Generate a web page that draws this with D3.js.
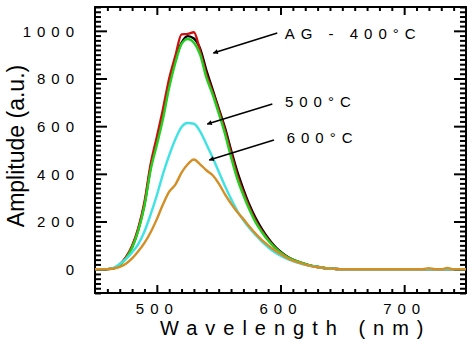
<!DOCTYPE html>
<html><head><meta charset="utf-8">
<script src="https://cdn.jsdelivr.net/npm/d3@7"></script>
<style>
html,body{margin:0;padding:0;background:#fff;}
svg{display:block;}
text{font-family:"Liberation Sans",Arial,Helvetica,sans-serif;fill:#000;}
</style>
</head><body>
<svg id="chart" width="474" height="344"></svg>
<script>
// Wavelength (nm)
const wavelengths = [450,455,460,465,470,475,480,485,490,495,500,505,510,515,520,525,530,535,540,545,550,555,560,565,570,575,580,585,590,595,600,605,610,615,620,625,630,635,640,645,650,655,660,665,670,675,680,685,690,695,700,705,710,715,720,725,730,735,740,745,750];
// Amplitude (a.u.) – "AG - 400°C" group (black, red, green), 500°C (cyan), 600°C (orange)
const ampBlack = [0,0,0,3,19,47,93,166,272,428,538,652,778,880,950,978,968,925,835,755,675,595,500,410,335,268,213,168,130,98,73,54,40,30,21,14,9,5,3,1,0,0,0,0,0,0,0,0,0,0,0,0,0,0,0,0,0,0,0,0,0];
const ampRed   = [0,0,0,3,20,50,98,172,282,440,555,672,800,895,985,987,994,915,820,745,668,585,488,395,322,258,203,160,124,94,70,52,39,29,21,14,9,5,3,1,0,0,0,0,0,0,0,0,0,0,0,0,0,0,0,0,0,0,0,0,0];
const ampGreen = [0,0,0,3,18,45,90,162,265,416,521,631,762,866,945,966,950,900,805,735,655,570,470,380,310,248,195,155,120,93,70,52,40,31,22,15,10,6,3,1,0,0,0,0,0,0,0,0,0,0,0,0,0,0,0,0,0,0,0,0,0];
const amp500   = [0,0,0,6,22,42,70,105,158,230,310,400,478,545,597,613,610,578,525,470,410,350,295,245,205,172,143,115,92,72,57,44,34,25,18,13,9,5,3,1,0,0,0,0,0,0,0,0,0,0,0,0,0,0,0,0,0,0,0,0,0];
const amp600   = [0,0,0,3,10,23,45,75,110,155,210,272,325,355,405,440,460,440,415,395,360,315,275,240,210,178,148,122,100,80,64,48,36,27,19,13,8,5,3,1,0,0,0,0,0,0,0,0,0,0,0,0,0,0,4,0,0,5,0,0,0];
const seriesColors = ["#000000","#cc1010","#22d022","#3fe3e3","#d38e26"];

// Axis ticks
const xMajorTicks = [500,600,700];
const yMajorTicks = [0,200,400,600,800,1000];
const xDomain = [450,750];
const yDomain = [-100,1100];

// Annotations: label, text anchor point (data), arrow start (data), arrow tip (data)
const annLabels = ["AG - 400\u00B0C","500\u00B0C","600\u00B0C"];
const annText   = [[603.4,965],[603.6,679],[605,528]];
const annFrom   = [[597.4,991],[593.4,693],[594.7,542]];
const annTip    = [[545.7,907],[540.8,609],[542.4,458]];

const svg = d3.select("#chart");
const L=95, R=466, T=7, B=293;
const x = d3.scaleLinear().domain(xDomain).range([L,R]);
const y = d3.scaleLinear().domain(yDomain).range([B,T]);

const xMinor = d3.range(460,750,10).filter(v=>!xMajorTicks.includes(v));
const yMinor = d3.range(-100,1101,20).filter(v=>!yMajorTicks.includes(v));
const fmt = d3.format("d");

function styleAxis(g){
  g.select(".domain").remove();
  g.selectAll(".tick line").attr("stroke","#000").attr("stroke-width",2);
}
// minor ticks
svg.append("g").attr("transform",`translate(0,${B})`).call(d3.axisBottom(x).tickValues(xMinor).tickSize(-4).tickFormat("")).call(styleAxis);
svg.append("g").attr("transform",`translate(0,${T})`).call(d3.axisTop(x).tickValues(xMinor).tickSize(-4).tickFormat("")).call(styleAxis);
svg.append("g").attr("transform",`translate(${L},0)`).call(d3.axisLeft(y).tickValues(yMinor).tickSize(-6).tickFormat("")).call(styleAxis);
svg.append("g").attr("transform",`translate(${R},0)`).call(d3.axisRight(y).tickValues(yMinor).tickSize(-6).tickFormat("")).call(styleAxis);
// major ticks
const gxb = svg.append("g").attr("transform",`translate(0,${B})`).call(d3.axisBottom(x).tickValues(xMajorTicks).tickFormat(fmt).tickSize(-8).tickPadding(10)).call(styleAxis);
svg.append("g").attr("transform",`translate(0,${T})`).call(d3.axisTop(x).tickValues(xMajorTicks).tickSize(-8).tickFormat("")).call(styleAxis);
const gyl = svg.append("g").attr("transform",`translate(${L},0)`).call(d3.axisLeft(y).tickValues(yMajorTicks).tickFormat(fmt).tickSize(-12).tickPadding(21)).call(styleAxis);
svg.append("g").attr("transform",`translate(${R},0)`).call(d3.axisRight(y).tickValues(yMajorTicks).tickSize(-12).tickFormat("")).call(styleAxis);

gxb.selectAll("text").attr("font-size",15).attr("font-family",null).attr("letter-spacing",6);
gyl.selectAll("text").attr("font-size",15).attr("font-family",null).attr("letter-spacing",6).attr("dx",6).attr("dy","0.36em");

// frame
svg.append("rect").attr("x",L).attr("y",T).attr("width",R-L).attr("height",B-T)
  .attr("fill","none").attr("stroke","#000").attr("stroke-width",2);

// curves
const seriesList = [ampBlack, ampRed, ampGreen, amp500, amp600];
const line = d3.line().x((d,i)=>x(wavelengths[i])).y(d=>y(d)).curve(d3.curveMonotoneX);
const plot = svg.append("g");
seriesList.forEach((s,k)=>{
  plot.append("path").datum(s).attr("d",line).attr("fill","none")
    .attr("stroke",seriesColors[k]).attr("stroke-width",2.4).attr("stroke-linejoin","round");
});

// arrows
svg.append("defs").append("marker").attr("id","ah").attr("viewBox","0 0 10 10")
  .attr("refX",9).attr("refY",5).attr("markerWidth",7).attr("markerHeight",5)
  .attr("markerUnits","userSpaceOnUse").attr("orient","auto")
  .append("path").attr("d","M0,0 L10,5 L0,10 Z").attr("fill","#000");
annLabels.forEach((lab,i)=>{
  svg.append("line").attr("x1",x(annFrom[i][0])).attr("y1",y(annFrom[i][1]))
    .attr("x2",x(annTip[i][0])).attr("y2",y(annTip[i][1]))
    .attr("stroke","#000").attr("stroke-width",1.5).attr("marker-end","url(#ah)");
  svg.append("text").attr("x",x(annText[i][0])).attr("y",y(annText[i][1]))
    .attr("font-size",15).attr("letter-spacing",6).text(lab);
});

// axis titles
svg.append("text").attr("x",160).attr("y",335).attr("font-size",20).attr("letter-spacing",8).text("Wavelength (nm)");
svg.append("text").attr("transform","translate(24,146) rotate(-90)").attr("text-anchor","middle")
  .attr("font-size",23).text("Amplitude (a.u.)");
</script>
</body></html>
